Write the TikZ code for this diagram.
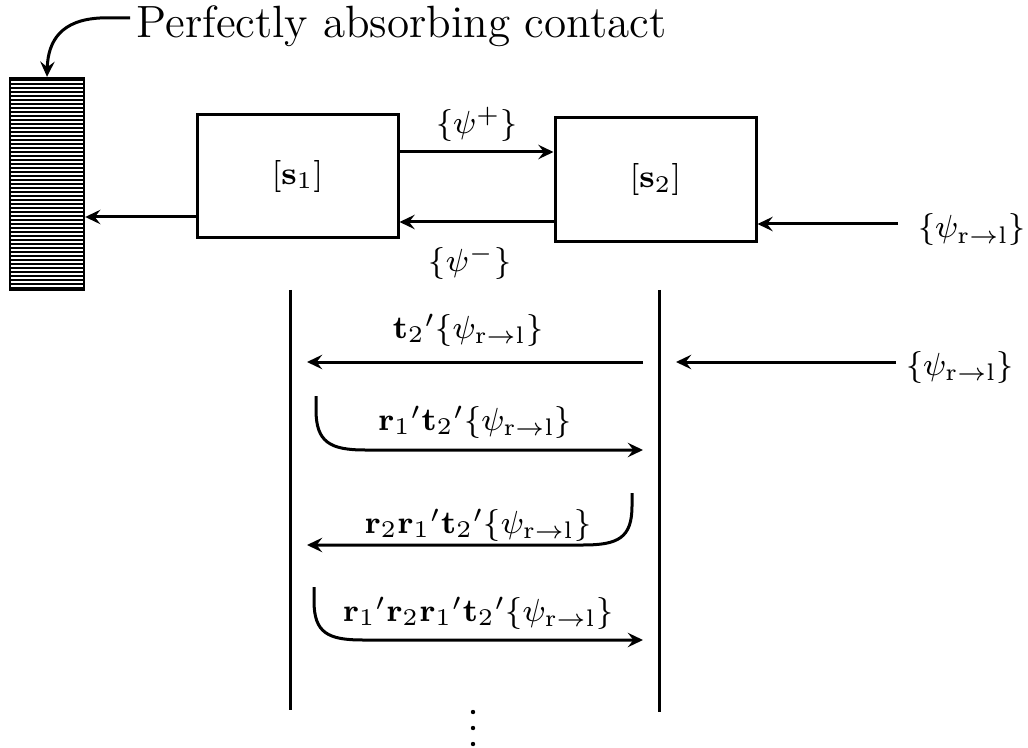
\documentclass[tikz,border=0pt]{standalone}
\usetikzlibrary{arrows.meta}
\begin{document}
\begin{tikzpicture}[x=0.25pt,y=-0.25pt,
  ln/.style={line width=0.75pt},
  arr/.style={ln,-{Stealth[length=3.8pt,width=3.6pt,inset=1.4pt]}},
  box/.style={draw,ln,inner sep=0pt,font=\fontsize{8.5}{10}\selectfont},
  lab/.style={inner sep=1pt,font=\fontsize{8}{10}\selectfont},
  rlab/.style={inner sep=1pt,font=\fontsize{8.5}{10}\selectfont}]
\useasboundingbox (0,0) rectangle (1028,748);
% contact
\node[draw,line width=0.6pt,minimum width=18.5pt,minimum height=53pt,inner sep=0pt,
  path picture={\foreach \i in {0,...,52}
    \draw[line width=0.55pt] ([yshift=-\i*1pt-0.5pt]path picture bounding box.north west) -- ([yshift=-\i*1pt-0.5pt]path picture bounding box.north east);}]
  (contact) at (47,184) {};
\node[anchor=base west,inner sep=0pt,font=\fontsize{11.3}{13}\selectfont] (title) at (136,38) {Perfectly absorbing contact};
\coordinate (tstart) at (130,18);
\draw[arr] (tstart) -- (100,18) .. controls (62,20) and (48,40) .. (contact.north);
% boxes
\node[box,minimum width=50.25pt,minimum height=30.75pt] (s1) at (297.5,176.5) {$[\mathbf{s}_1]$};
\node[box,minimum width=50.25pt,minimum height=31pt] (s2) at (655.5,180) {$[\mathbf{s}_2]$};
\draw[arr] (s1.east |- 0,152) -- (s2.west |- 0,152);
\draw[arr] (s2.west |- 0,222) -- (s1.east |- 0,222);
\draw[arr] (s1.west |- 0,217) -- (contact.east |- 0,217);
\node[rlab] (psip) at (477,124) {$\{\psi^{+}\}$};
\node[rlab] (psim) at (470,262) {$\{\psi^{-}\}$};
\node[rlab] (in1) at (972,230) {$\{\psi_{\mathrm{r}\to\mathrm{l}}\}$};
\coordinate (in1s) at (898,224);
\draw[arr] (in1s) -- (s2.east |- 0,224);
% vertical lines
\coordinate (La) at (290,290); \coordinate (Lb) at (290,710);
\coordinate (Ra) at (659,290); \coordinate (Rb) at (659,712);
\draw[ln] (La) -- (Lb);
\draw[ln] (Ra) -- (Rb);
% incoming
\node[rlab] (in2) at (960,367) {$\{\psi_{\mathrm{r}\to\mathrm{l}}\}$};
\coordinate (in2s) at (896,362);
\coordinate (in2e) at (676,362);
\draw[arr] (in2s) -- (in2e);
% series
\coordinate (a1s) at (643,362); \coordinate (a1e) at (307,362);
\draw[arr] (a1s) -- (a1e);
\node[lab] (l1) at (468,330) {$\mathbf{t}_2{}'\{\psi_{\mathrm{r}\to\mathrm{l}}\}$};
\coordinate (a2s) at (316,396); \coordinate (a2e) at (643,450);
\draw[arr] (a2s) -- (316,410) .. controls (316,442) and (330,450) .. (365,450) -- (a2e);
\node[lab] (l2) at (475,422) {$\mathbf{r}_1{}'\mathbf{t}_2{}'\{\psi_{\mathrm{r}\to\mathrm{l}}\}$};
\coordinate (a3s) at (632,493); \coordinate (a3e) at (307,545);
\draw[arr] (a3s) -- (632,506) .. controls (632,538) and (618,545) .. (583,545) -- (a3e);
\node[lab] (l3) at (478,525) {$\mathbf{r}_2\mathbf{r}_1{}'\mathbf{t}_2{}'\{\psi_{\mathrm{r}\to\mathrm{l}}\}$};
\coordinate (a4s) at (314,587); \coordinate (a4e) at (643,640);
\draw[arr] (a4s) -- (314,601) .. controls (314,633) and (328,640) .. (363,640) -- (a4e);
\node[lab] (l4) at (478,613) {$\mathbf{r}_1{}'\mathbf{r}_2\mathbf{r}_1{}'\mathbf{t}_2{}'\{\psi_{\mathrm{r}\to\mathrm{l}}\}$};
% continuation dots
\foreach \yy in {712,728,744} \fill (473,\yy) circle (0.55pt);
\end{tikzpicture}
\end{document}
